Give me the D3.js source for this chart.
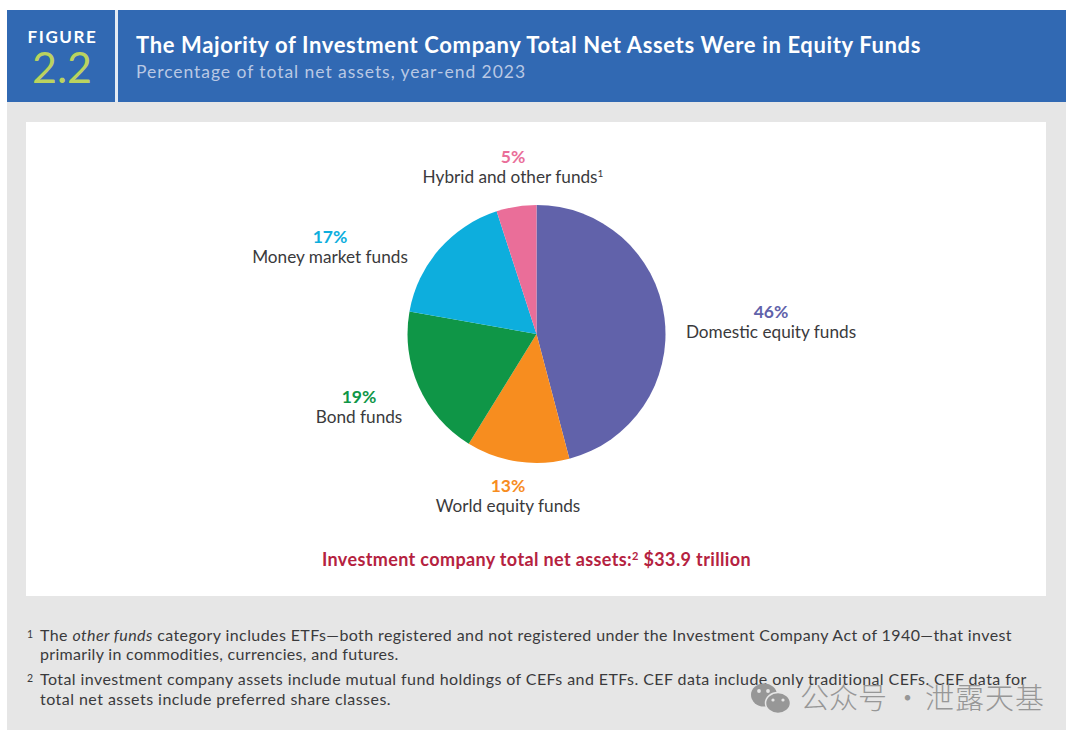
<!DOCTYPE html>
<html>
<head>
<meta charset="utf-8">
<script src="https://cdn.jsdelivr.net/npm/d3@7"></script>
<style>
  html, body { margin: 0; padding: 0; background: #fff; }
  svg { display: block; }
  text { font-family: Lato, "Noto Sans", sans-serif; }
</style>
</head>
<body>
<div id="chart"></div>
<script>
const categories = ['Domestic equity funds', 'World equity funds', 'Bond funds', 'Money market funds', 'Hybrid and other funds'];
// slice sizes, the printed labels are these rounded
const shares = [45.9, 12.9, 19, 17.2, 5];
const sliceColors = ['#6162AA', '#F78D1F', '#0F9647', '#0DAEDD', '#EA6E99'];
const labelCentres = [[771, 312], [508, 486], [359, 397], [330, 237], [513, 157]];
const footnotes = [
    ['1', ['The |other funds| category includes ETFs—both registered and not registered under the Investment Company Act of 1940—that invest',
           'primarily in commodities, currencies, and futures.']],
    ['2', ['Total investment company assets include mutual fund holdings of CEFs and ETFs. CEF data include only traditional CEFs. CEF data for',
           'total net assets include preferred share classes.']]
];
const noteWidths = [[972, 359], [987, 351]];

const svg = d3.select('#chart')
    .append('svg')
    .attr('width', 1080)
    .attr('height', 742);

// background panels
const rect = (x, y, w, h, fill) => svg.append('rect')
    .attr('x', x).attr('y', y).attr('width', w).attr('height', h).attr('fill', fill);

rect(7, 102, 1059, 628, '#E6E6E6');
rect(26, 122, 1020, 474, '#FFFFFF');
rect(7, 10, 1059, 92, '#3169B3');
rect(115, 10, 3, 92, '#E4EBF4');

const label = (x, y, str, size, fill, weight, anchor) => svg.append('text')
    .attr('x', x).attr('y', y)
    .attr('font-size', size)
    .attr('font-weight', weight || 400)
    .attr('text-anchor', anchor || 'start')
    .attr('fill', fill)
    .text(str);

// Lato runs narrower than the original face, so open it up to the measured width
const fit = (t, width) => {
    const node = t.node();
    const gap = (width - node.getComputedTextLength()) / node.textContent.length;
    return t.attr('letter-spacing', gap.toFixed(3));
};

// header
fit(label(62.5, 43, 'FIGURE', 17, '#FFFFFF', 700, 'middle'), 70);
label(62, 83, '2.2', 43, '#BBD35F', 400, 'middle');
fit(label(136, 53, 'The Majority of Investment Company Total Net Assets Were in Equity Funds', 22, '#FFFFFF', 700), 785);
fit(label(136, 78, 'Percentage of total net assets, year-end 2023', 17.5, '#B9C8E4', 400), 390);

// pie
const pie = d3.pie().sort(null)(shares);
const arc = d3.arc().innerRadius(0).outerRadius(129);

svg.append('g')
    .attr('transform', 'translate(536.5, 334)')
    .selectAll('path')
    .data(pie)
    .enter()
    .append('path')
    .attr('d', arc)
    .attr('fill', (d, i) => sliceColors[i]);

// slice labels
categories.forEach((name, i) => {
    const [cx, cy] = labelCentres[i];
    label(cx, cy + 6, Math.round(shares[i]) + '%', 17.5, sliceColors[i], 700, 'middle');
    const t = label(cx, cy + 26, name, 17.2, '#3A3A3C', 400, 'middle');
    if (i === 4) {
        t.append('tspan').attr('font-size', 10).attr('dy', -6).text('1');
    }
});

// total line
const total = label(536.5, 566, 'Investment company total net assets:', 18, '#B5223F', 700, 'middle');
total.append('tspan').attr('font-size', 11).attr('dy', -6).text('2');
total.append('tspan').attr('dy', 6).text(' $33.9 trillion');
fit(total, 429);

// footnotes
const noteRows = [[641, 660], [685, 705]];
footnotes.forEach(([mark, lines], i) => {
    label(27, noteRows[i][0] - 3, mark, 10.5, '#3A3A3C');
    lines.forEach((line, j) => {
        const t = label(40, noteRows[i][j], '', 16, '#3A3A3C');
        line.split('|').forEach((part, k) => {
            t.append('tspan').attr('font-style', k === 1 ? 'italic' : 'normal').text(part);
        });
        fit(t, noteWidths[i][j]);
    });
});

// watermark
const mark = svg.append('g').attr('fill', '#979797');
const ellipse = (cx, cy, rx, ry, fill) => mark.append('ellipse')
    .attr('cx', cx).attr('cy', cy).attr('rx', rx).attr('ry', ry).attr('fill', fill || null);
ellipse(764, 695, 13, 11.5);
ellipse(778, 703, 12.5, 10.5).attr('stroke', '#E6E6E6').attr('stroke-width', 1.5);
ellipse(759, 691, 1.9, 1.9, '#E6E6E6');
ellipse(768, 691, 1.9, 1.9, '#E6E6E6');
ellipse(773, 700, 1.6, 1.6, '#E6E6E6');
ellipse(783, 700, 1.6, 1.6, '#E6E6E6');

const wm = svg.append('text')
    .attr('y', 709)
    .attr('font-size', 29)
    .attr('fill', '#979797')
    .style('font-family', '"Noto Sans CJK SC"')
    .style('font-weight', 300);
wm.append('tspan').attr('x', 800).text('公众号');
wm.append('tspan').attr('x', 893).text('·');
wm.append('tspan').attr('x', 925).attr('letter-spacing', 1).text('泄露天基');
</script>
</body>
</html>
